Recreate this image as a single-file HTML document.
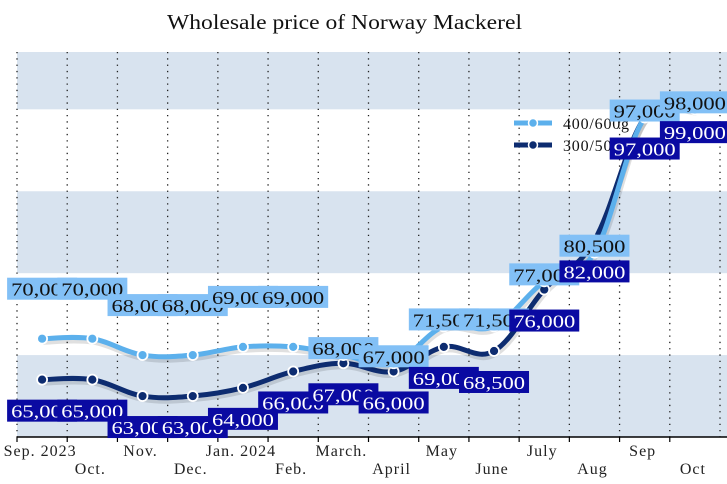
<!DOCTYPE html>
<html><head><meta charset="utf-8"><style>
body{margin:0;background:#fff;}
svg{display:block;font-family:"Liberation Serif","DejaVu Serif",serif;}
</style></head><body>
<svg id="chart" width="727" height="484" viewBox="0 0 727 484">
<text x="167" y="29" textLength="355" lengthAdjust="spacingAndGlyphs" font-size="21" fill="#111">Wholesale price of Norway Mackerel</text>
<g id="bands"></g><g id="grid"></g><g id="axis"></g><g id="lines"></g><g id="legend"></g><g id="labels"></g>
</svg>
<script>
const categories=["Sep. 2023","Oct.","Nov.","Dec.","Jan. 2024","Feb.","March.","April","May","June","July","Aug","Sep","Oct"];
const seriesLight=[70000,70000,68000,68000,69000,69000,68000,67000,71500,71500,77000,80500,97000,98000];
const seriesDark=[65000,65000,63000,63000,64000,66000,67000,66000,69000,68500,76000,82000,97000,99000];
const bandTicks=[58000,68000,78000,88000,98000,105000];
const lightLabelRaised=[1,1,1,1,1,1,0,0,0,0,0,0,0,0];

const NS="http://www.w3.org/2000/svg";
const X0=17,X1=720,Y0=437,YMIN=58000,YMAX=105000,YTOP=52;
const bw=(X1-X0)/categories.length;
function xs(i){return X0+bw*(i+0.5);}
function ys(v){return Y0-(v-YMIN)/(YMAX-YMIN)*(Y0-YTOP);}
function mk(tag,attrs,parent){const e=document.createElementNS(NS,tag);for(const k in attrs)e.setAttribute(k,attrs[k]);parent.appendChild(e);return e;}

const bands=document.getElementById('bands');
for(let i=0;i<bandTicks.length-1;i++){
  if(i%2===0){
    const r=mk('rect',{x:X0,y:ys(bandTicks[i+1]),width:X1-X0+7,height:ys(bandTicks[i])-ys(bandTicks[i+1]),fill:'#d8e3ef'},bands);
    
    
  }
}
const grid=document.getElementById('grid');
for(let i=0;i<=categories.length;i++){
  const x=X0+bw*i;
  const l=mk('line',{x1:x,x2:x,y1:YTOP,y2:Y0,stroke:'#222','stroke-width':1.3,'stroke-dasharray':'1.3 5'},grid);
  
  
}
const axis=document.getElementById('axis');
const ax=mk('line',{x1:X0,x2:X1+7,y1:Y0,y2:Y0,stroke:'#000','stroke-width':1.5},axis);


categories.forEach((c,i)=>{
  const tx=X0+bw*i;
  mk('line',{x1:tx,x2:tx,y1:Y0,y2:Y0+5,stroke:'#000','stroke-width':1.2},axis);
  const t=mk('text',{x:xs(i)-2,y:i%2===0?456:474,'text-anchor':'middle','font-size':16,'letter-spacing':1,fill:'#222'},axis);
  t.textContent=c;
  
  
});

function pathFor(vals){
  const p=vals.map((v,i)=>[xs(i),ys(v)]);
  let d='M'+p[0][0]+','+p[0][1];
  for(let i=0;i<p.length-1;i++){
    const p0=p[i-1]||p[i],p1=p[i],p2=p[i+1],p3=p[i+2]||p2;
    const t=0.18;
    const c1=[p1[0]+(p2[0]-p0[0])*t,p1[1]+(p2[1]-p0[1])*t];
    const c2=[p2[0]-(p3[0]-p1[0])*t,p2[1]-(p3[1]-p1[1])*t];
    d+=' C'+c1+' '+c2+' '+p2;
  }
  return d;
}
const lines=document.getElementById('lines');
function drawSeries(vals,color,name){
  const sh=mk('path',{d:pathFor(vals),fill:'none',stroke:'rgba(0,0,0,0.12)','stroke-width':6,transform:'translate(1,3)'},lines);
  
  
  const ln=mk('path',{d:pathFor(vals),fill:'none',stroke:color,'stroke-width':5},lines);
  
  
  vals.forEach((v,i)=>{
    const c=mk('circle',{cx:xs(i),cy:ys(v),r:5,fill:color,stroke:'#fff','stroke-width':1.8},lines);
    
    
  });
}
drawSeries(seriesDark,'#0d2c70','series-300-500g');
drawSeries(seriesLight,'#5cb0ec','series-400-600g');

const legend=document.getElementById('legend');
[['400/600g','#5cb0ec',123],['300/500g','#0d2c70',145]].forEach(([lab,col,y])=>{
  const g=mk('g',{},legend);
  
  
  mk('line',{x1:514,x2:552,y1:y,y2:y,stroke:col,'stroke-width':5},g);
  mk('circle',{cx:533,cy:y,r:4.5,fill:col,stroke:'#fff','stroke-width':1.5},g);
  const t=mk('text',{x:563,y:y+6,'font-size':16,'letter-spacing':0.8,fill:'#111'},g);t.textContent=lab;
});

const labels=document.getElementById('labels');
function fmt(v){return v.toLocaleString('en-US');}
function label(v,i,dy,bg,fg,name){
  const g=mk('g',{},labels);
  
  
  const cx=xs(i),cy=ys(v)+dy;
  mk('rect',{x:cx-35,y:cy-11,width:70,height:22,fill:bg},g);
  const t=mk('text',{x:cx-31,y:cy+7,'font-size':18,textLength:62,lengthAdjust:'spacingAndGlyphs',fill:fg},g);
  t.textContent=fmt(v);
}
seriesLight.forEach((v,i)=>label(v,i,lightLabelRaised[i]?-50:-7,'#82c0f6','#111','label-400-600g'));
seriesDark.forEach((v,i)=>label(v,i,31,'#0a0aa2','#fff','label-300-500g'));
</script>
</body></html>
